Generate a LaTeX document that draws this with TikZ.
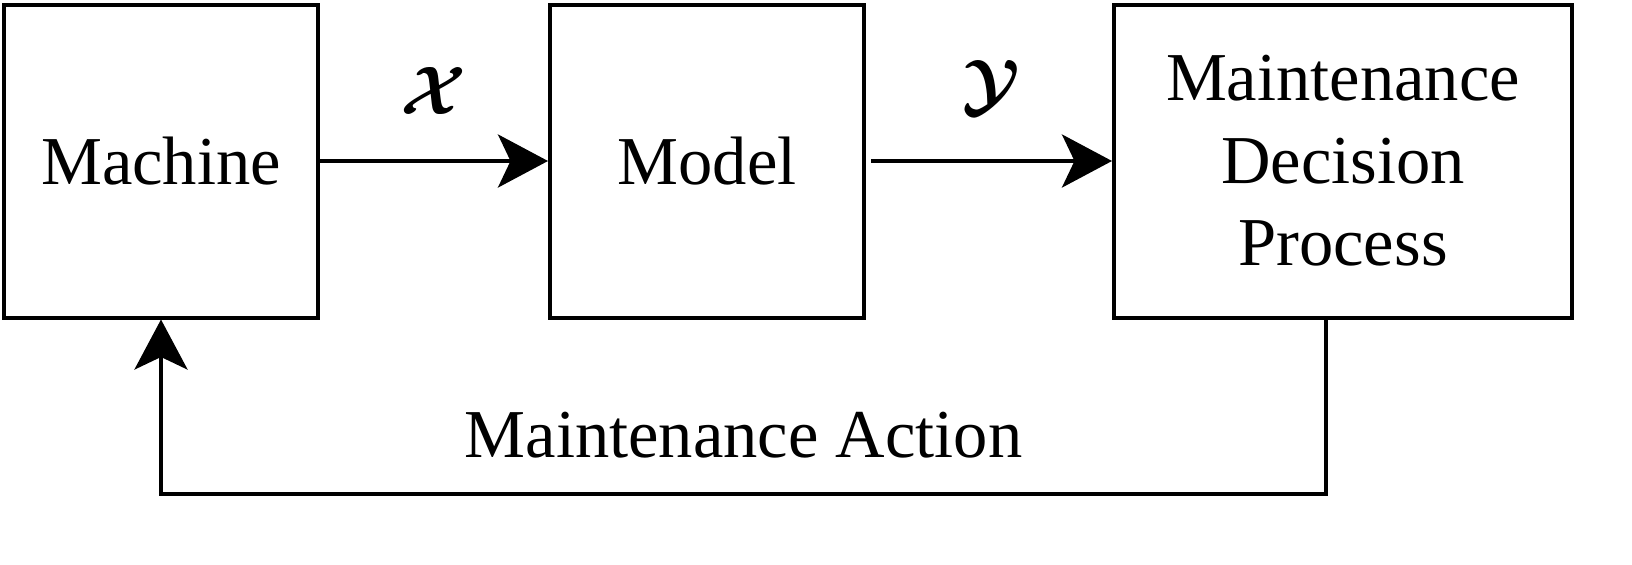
\RequirePackage{fix-cm}
\documentclass[tikz,border=0pt]{standalone}
\usepackage{amsmath}
\usepackage{fontspec}
\setmainfont{Liberation Serif}
\usetikzlibrary{positioning,arrows.meta}

\begin{document}
\begin{tikzpicture}[line width=0.08cm,
  block/.style={draw, rectangle, minimum height=6.26cm, align=center,
    font=\fontsize{39}{47}\selectfont},
  flow/.style={-{Stealth[length=1cm, width=1.06cm, inset=0.25cm]}},
  lbl/.style={inner sep=0, font=\fontsize{39}{47}\selectfont}]
    \useasboundingbox (0,0) rectangle (32.64,-11.28);
    \node (machine) [block, minimum width=6.28cm] at (3.22,-3.22) {Machine};
    \node (model) [block, minimum width=6.28cm, right=4.56cm of machine] {Model};
    \node (mdp) [block, minimum width=9.16cm, right=4.92cm of model]
      {Maintenance\\Decision\\Process};
    % forward arrows
    \draw[flow] (machine.east) -- node[lbl, above=0.9cm] {$\boldsymbol{\mathcal{X}}$} (model.west);
    \draw[flow] ([xshift=0.1cm]model.east) -- node[lbl, above=0.9cm] {$\boldsymbol{\mathcal{Y}}$} (mdp.west);
    % feedback
    \coordinate (fbstart) at ([xshift=-0.34cm]mdp.south);
    \draw[flow] (fbstart) -- ++(0,-3.48) -| (machine.south)
      node[lbl, pos=0.25, above=0.66cm] {Maintenance Action};
\end{tikzpicture}
\end{document}
